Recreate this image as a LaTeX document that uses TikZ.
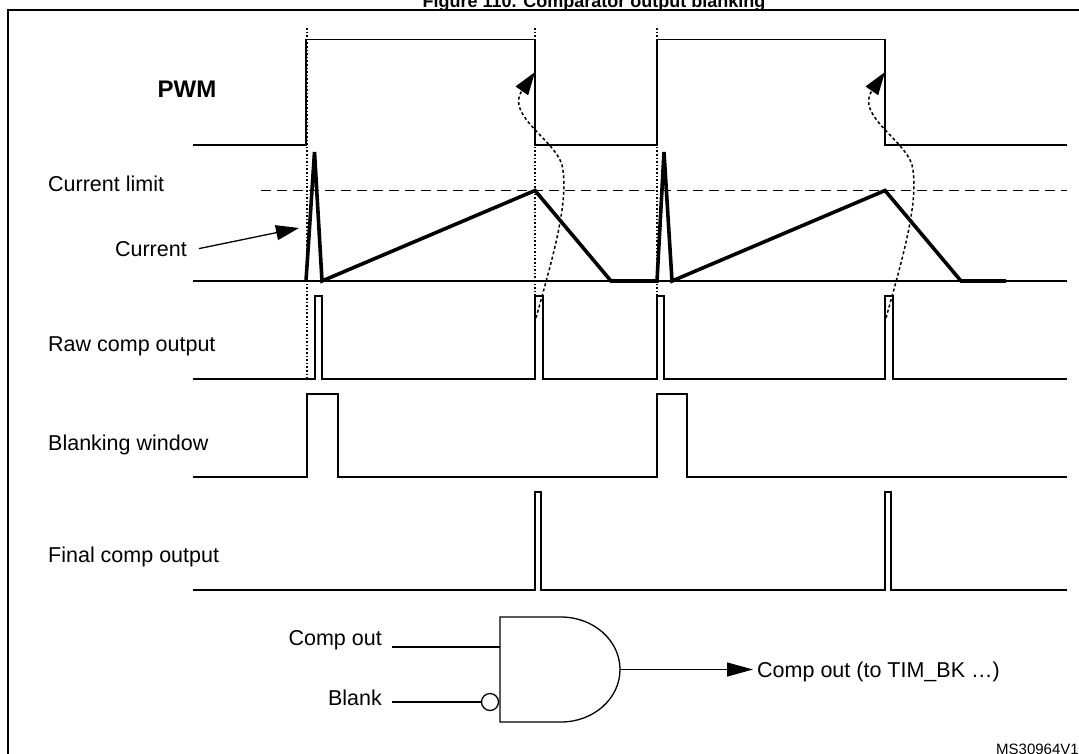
\documentclass[tikz,border=0pt]{standalone}
\usepackage{fontspec}
\setmainfont{Liberation Sans}
\usetikzlibrary{arrows.meta}

\begin{document}
\begin{tikzpicture}
[x=1pt,y=-1pt]
\tikzset{sig/.style={line width=1.3pt},
	cur/.style={line width=3.6pt},
	lbl/.style={inner sep=0pt,font=\fontsize{21.5}{26}\selectfont},
	edgeline/.style={line width=1.6pt,dash pattern=on 1.6pt off 2pt},
	curv/.style={line width=1.5pt,dash pattern=on 3pt off 2.5pt},
	big/.style={-{Triangle[length=23pt,width=15pt]}}}
\useasboundingbox (0,0) rectangle (1079,753);
\clip (0,0) rectangle (1079,753);

\node [inner sep=0pt,anchor=base,font=\fontsize{18}{20}\selectfont\bfseries] (ttl) at (594,7) {Figure 110. Comparator output blanking};
\draw [line width=2.5pt] (8,10) rectangle (1110,790);

% labels
\node [inner sep=0pt,anchor=base,font=\fontsize{24}{28}\selectfont\bfseries] (pwm) at (187,97) {PWM};
\node [lbl,anchor=base west] (lim) at (48,191.5) {Current limit};
\node [lbl,anchor=base east] (cur) at (187,256) {Current};
\node [lbl,anchor=base west] (raw) at (48,351.5) {Raw comp output};
\node [lbl,anchor=base west] (blk) at (48,450) {Blanking window};
\node [lbl,anchor=base west] (fin) at (48,562) {Final comp output};

% markers
\foreach \x/\y in {306.7/378,535/342,657/342}
	\draw [edgeline] (\x,28) -- (\x,\y);

% waveforms
\draw [sig] (193,145) -- (306,145) -- (306,39.5) -- (535,39.5) -- (535,145) -- (657,145) -- (657,39.5) -- (885,39.5) -- (885,145) -- (1067,145);
\draw [sig,dash pattern=on 10pt off 6pt] (261,190.5) -- (1067,190.5);
\draw [sig] (193,281) -- (1067,281);
\draw [cur] (306,281) -- (314.5,152) -- (322,281) -- (535,190.5) -- (611,281) -- (657,281) -- (664,152) -- (672,281) -- (885,190.5) -- (961,281) -- (1006,281);
\draw [sig] (193,379) -- (315,379) -- (315,296) -- (322,296) -- (322,379) -- (535,379) -- (535,296) -- (543,296) -- (543,379) -- (657,379) -- (657,296) -- (664,296) -- (664,379) -- (885,379) -- (885,296) -- (893,296) -- (893,379) -- (1067,379);
\draw [sig] (193,477) -- (307,477) -- (307,394) -- (338,394) -- (338,477) -- (657,477) -- (657,394) -- (687,394) -- (687,477) -- (1067,477);
\draw [sig] (193,590) -- (535,590) -- (535,492) -- (541,492) -- (541,590) -- (885,590) -- (885,492) -- (891,492) -- (891,590) -- (1067,590);

% comparator edge back to PWM
\foreach \dx in {0,350}
	\draw [curv,big] (536+\dx,318) .. controls (552+\dx,260) and (570+\dx,200) .. (562+\dx,165) .. controls (555+\dx,140) and (505+\dx,115) .. (535+\dx,72);

\coordinate (curtip) at (299,228);
\draw [sig,big] ([xshift=12pt]cur.east) -- (curtip);

% gate
\draw [sig] (500,617) -- (561,617) arc[start angle=-90,end angle=90,x radius=59,y radius=52.5] -- (500,722) -- cycle;
\coordinate (gin1) at (500,647);
\coordinate (gout) at (620,669.5);
\node [circle,draw,sig,inner sep=0pt,minimum size=17pt] (bub) at (490,702) {};
\node [lbl,anchor=base east] (cin) at (382,645) {Comp out};
\node [lbl,anchor=base east] (bin) at (382,705) {Blank};
\node [lbl,anchor=base west] (tim) at (757,677) {Comp out (to TIM\_BK \ldots)};
\coordinate (in1) at (392,647);
\coordinate (in2) at (392,702);
\draw [sig] (in1) -- (gin1);
\draw [sig] (in2) -- (bub.west);
\draw [sig,-{Triangle[length=26pt,width=14pt]}] (gout) -- ([xshift=-4pt]tim.west |- gout);

\node [inner sep=0pt,anchor=base west,font=\fontsize{15}{18}\selectfont] (ms) at (996,754) {MS30964V1};

\end{tikzpicture}
\end{document}
